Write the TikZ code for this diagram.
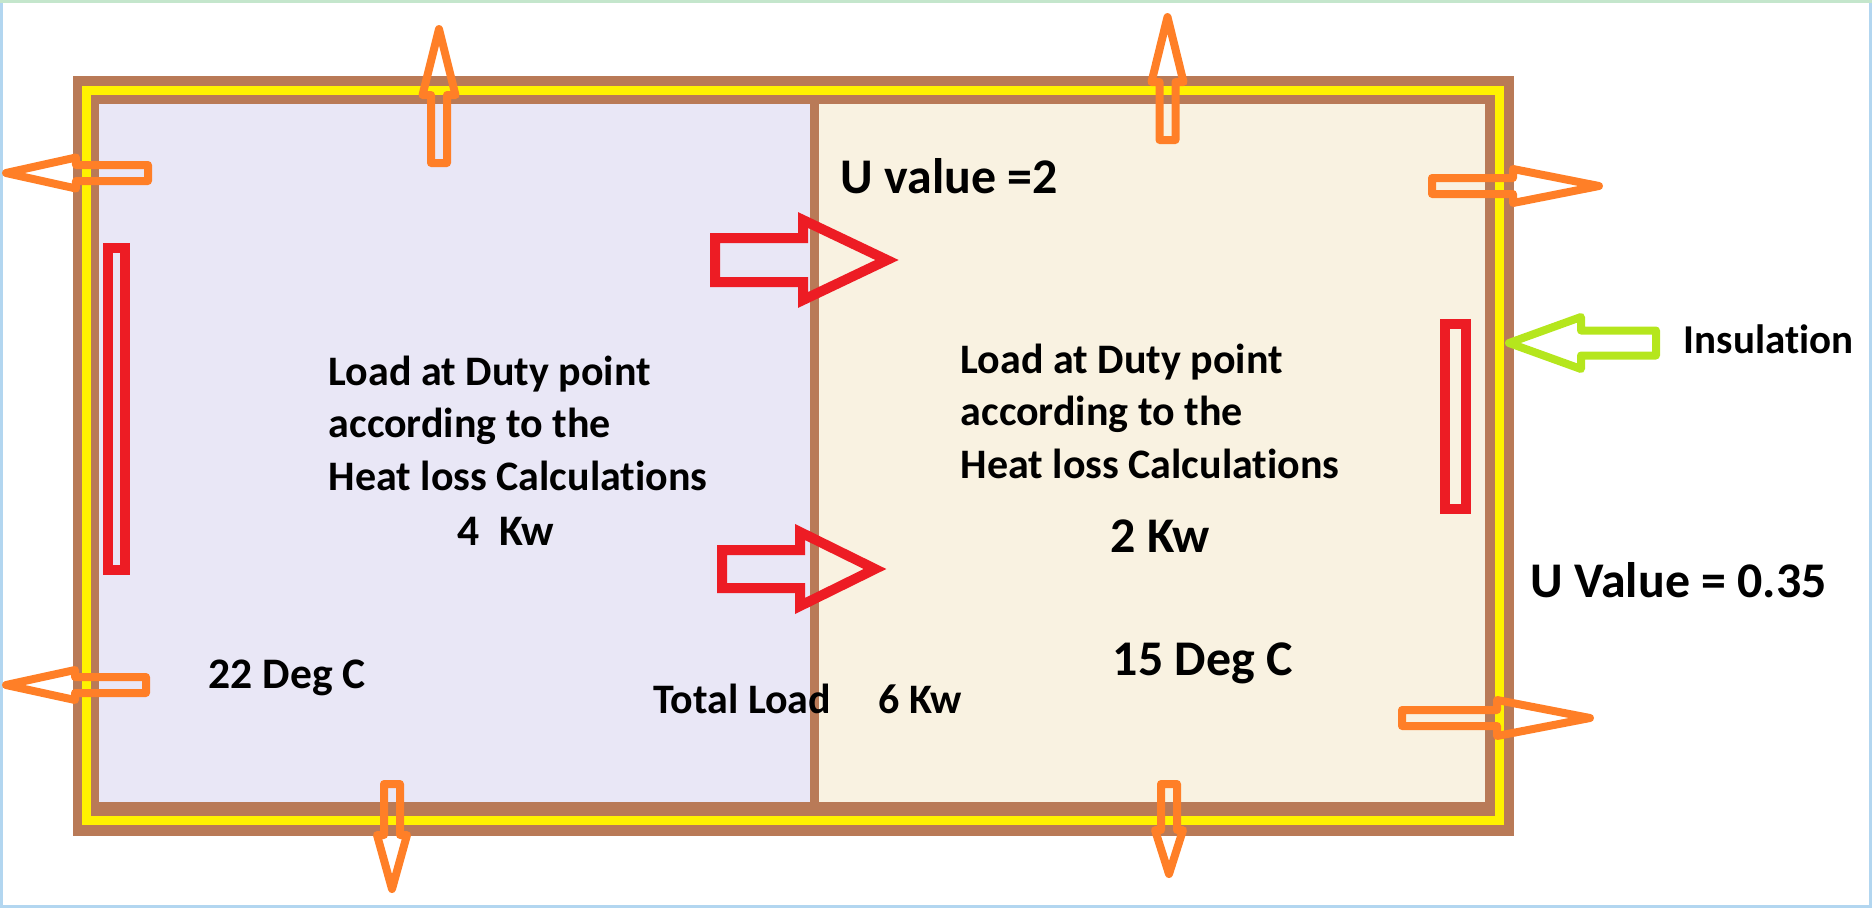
\documentclass[tikz,border=0pt]{standalone}
\usepackage{fontspec}
\setmainfont{Carlito}[Ligatures=NoCommon]
\usetikzlibrary{positioning}

\definecolor{wallbrown}{RGB}{185,122,87}
\definecolor{insyellow}{RGB}{255,242,0}
\definecolor{lossorange}{RGB}{255,127,39}
\definecolor{gainred}{RGB}{237,28,36}
\definecolor{marklime}{RGB}{181,230,29}
\definecolor{warmroom}{RGB}{233,231,246}
\definecolor{coolroom}{RGB}{249,242,225}
\definecolor{framegreen}{RGB}{196,230,204}
\definecolor{frameblue}{RGB}{178,214,240}

\begin{document}
\begin{tikzpicture}[
    insulation/.style={draw=insyellow, line width=0.09cm},
    lossarrow/.style={draw=lossorange, line width=0.08cm, line join=round},
    gainarrow/.style={draw=gainred, line width=0.10cm, line join=miter},
    markarrow/.style={draw=marklime, line width=0.08cm, line join=round},
    heater/.style={draw=gainred, line width=0.10cm},
    txt/.style={font=\bfseries\fontsize{11.95}{14.8}\selectfont, anchor=base west, inner sep=0pt, align=left},
    bigtxt/.style={txt, font=\bfseries\fontsize{14.2}{17}\selectfont},
    pics/heatarrow/.style n args={4}{code={
        \draw[pic actions] (0,-#3) -- ({#1-#2},-#3) -- ({#1-#2},-#4) -- (#1,0)
            -- ({#1-#2},#4) -- ({#1-#2},#3) -- (0,#3) -- cycle;
    }}
]
\useasboundingbox (0,0) rectangle (18.72,9.08);

% ─── Screenshot frame ────────────────────────────────────────────────
\draw[framegreen, line width=0.03cm] (0,9.065) -- (18.72,9.065);
\draw[frameblue, line width=0.03cm] (0.015,9.05) -- (0.015,0.015) -- (18.705,0.015) -- (18.705,9.05);

% ─── Walls and rooms ─────────────────────────────────────────────────
\fill[wallbrown] (0.73,0.72) rectangle (15.14,8.32);
\draw[insulation] (0.86,0.88) rectangle (14.995,8.18);
\fill[warmroom] (0.99,1.06) rectangle (8.10,8.04);
\fill[coolroom] (8.19,1.06) rectangle (14.85,8.04);

% ─── Radiators ───────────────────────────────────────────────────────
\draw[heater] (1.08,3.38) rectangle (1.25,6.60);
\draw[heater] (14.445,3.995) rectangle (14.655,5.845);

% ─── Heat loss through the outer walls (orange) ──────────────────────
\pic[lossarrow, rotate=90]  (lossA) at (4.39,7.45)  {heatarrow={1.34}{0.66}{0.08}{0.165}};
\pic[lossarrow, rotate=90]  (lossB) at (11.675,7.68) {heatarrow={1.23}{0.65}{0.08}{0.16}};
\pic[lossarrow, rotate=180] (lossC) at (1.48,7.35)  {heatarrow={1.42}{0.70}{0.08}{0.155}};
\pic[lossarrow, rotate=180] (lossD) at (1.46,2.23)  {heatarrow={1.40}{0.69}{0.08}{0.15}};
\pic[lossarrow, rotate=-90] (lossE) at (3.92,1.24)  {heatarrow={1.05}{0.54}{0.08}{0.15}};
\pic[lossarrow, rotate=-90] (lossF) at (11.69,1.24) {heatarrow={0.90}{0.44}{0.08}{0.14}};
\pic[lossarrow]             (lossG) at (14.32,7.22) {heatarrow={1.67}{0.86}{0.08}{0.17}};
\pic[lossarrow]             (lossH) at (14.02,1.90) {heatarrow={1.88}{0.93}{0.08}{0.18}};

% ─── Heat through the partition (red) ────────────────────────────────
\pic[gainarrow] (gainA) at (7.15,6.48) {heatarrow={1.72}{0.84}{0.22}{0.40}};
\pic[gainarrow] (gainB) at (7.22,3.39) {heatarrow={1.53}{0.75}{0.19}{0.37}};

% ─── Insulation marker ───────────────────────────────────────────────
\pic[markarrow, rotate=180] (insmark) at (16.56,5.65) {heatarrow={1.47}{0.72}{0.125}{0.26}};

% ─── Labels ──────────────────────────────────────────────────────────
\node[bigtxt] (uwall) at (8.40,7.15) {U value =2};
\node[txt] (loadL) at (3.28,4.18) {Load at Duty point\\according to the\\Heat loss Calculations};
\node[txt, font=\bfseries\fontsize{12.4}{15}\selectfont] (kwL) at (4.57,3.63) {4~~Kw};
\node[txt] (loadR) at (9.60,4.30) {Load at Duty point\\according to the\\Heat loss Calculations};
\node[bigtxt] (kwR) at (11.10,3.56) {2 Kw};
\node[txt, font=\bfseries\fontsize{12.4}{15}\selectfont] (tempL) at (2.08,2.20) {22 Deg C};
\node[bigtxt] (tempR) at (11.12,2.33) {15 Deg C};
\node[txt] (total) at (6.53,1.95) {Total Load~~~~~6 Kw};
\node[bigtxt] (uext) at (15.30,3.11) {U Value = 0.35};
\node[txt, font=\bfseries\fontsize{11.67}{14}\selectfont] (insul) at (16.83,5.55) {Insulation};

\end{tikzpicture}
\end{document}
